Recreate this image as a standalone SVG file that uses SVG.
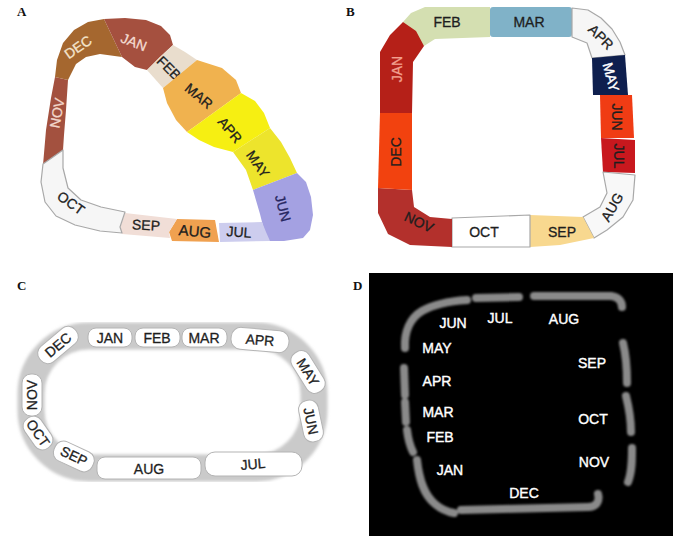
<svg xmlns="http://www.w3.org/2000/svg" width="673" height="536" viewBox="0 0 673 536">
  <defs>
    <style>
      .t { font-family: "Liberation Sans", Arial, sans-serif; font-size: 14px; text-anchor: middle; dominant-baseline: central; fill: #1e1e1e; stroke: #1e1e1e; stroke-width: 0.3; }
      .w { fill: #ffffff; stroke: #ffffff; stroke-width: 0.4; }
      .lab { font-family: "Liberation Serif", "Times New Roman", serif; font-weight: bold; font-size: 13px; fill: #111; }
      .pale { stroke: #a8a8a8; stroke-width: 1.2; stroke-linejoin: round; }
      .pill { fill: #ffffff; stroke: #b4b4b4; stroke-width: 1; }
      .dash { fill: none; stroke: #8a8a8a; stroke-width: 8; stroke-linecap: round; stroke-linejoin: round; }
    </style>
    <filter id="soft" x="-10%" y="-10%" width="120%" height="120%">
      <feGaussianBlur stdDeviation="0.8"/>
    </filter>
    <filter id="haze" x="-10%" y="-10%" width="120%" height="120%">
      <feGaussianBlur stdDeviation="1.5"/>
    </filter>
  </defs>

  <rect width="673" height="536" fill="#ffffff"/>

  <!-- Panel A: curved band of months -->
  <g id="panel-a">
    <text class="lab" x="17" y="16">A</text>
    <g id="a-nov"><polygon points="43,165 46,130 51,98 55,77 68,80 66,110 64,135 63,150" fill="#a3513f"/>
      <text class="t" style="fill:#f2d8cc;stroke:#f2d8cc" transform="translate(57,113) rotate(-80)">NOV</text></g>
    <g id="a-dec"><polygon points="55,77 57,60 63,43 74,30 88,22 104,19 122,57 100,54 86,57 76,64 68,80" fill="#a5672f"/>
      <text class="t" style="fill:#f4e4cc;stroke:#f4e4cc" transform="translate(78,47) rotate(-35)">DEC</text></g>
    <g id="a-jan"><polygon points="104,19 125,18 146,20 161,26 170,35 173,45 160,57 147,70 135,67 122,57" fill="#a5503f"/>
      <text class="t" style="fill:#f4dcd2;stroke:#f4dcd2" transform="translate(134,42) rotate(22)">JAN</text></g>
    <g id="a-feb"><polygon points="173,45 185,52 197,60 163,88 147,70 160,57" fill="#e9ddcd"/>
      <text class="t" transform="translate(169,68) rotate(45)">FEB</text></g>
    <g id="a-mar"><polygon points="197,60 222,68 236,80 241,93 187,132 176,120 167,103 163,88" fill="#f0b24f"/>
      <text class="t" transform="translate(199,96) rotate(40)">MAR</text></g>
    <g id="a-apr"><polygon points="241,93 255,101 264,113 270,128 233,152 214,147 199,140 187,132" fill="#f6ef12"/>
      <text class="t" transform="translate(230,130) rotate(50)">APR</text></g>
    <g id="a-may"><polygon points="270,128 281,142 290,158 297,173 253,190 246,170 233,152" fill="#ede42c"/>
      <text class="t" transform="translate(258,164) rotate(55)">MAY</text></g>
    <g id="a-jun"><polygon points="297,173 306,182 311,197 313,215 310,230 303,238 284,241 269,241 264,230 260,214 253,190" fill="#a4a1e2"/>
      <text class="t" style="fill:#262660;stroke:#262660" transform="translate(283,208) rotate(75)">JUN</text></g>
    <g id="a-jul"><polygon points="219,223 262,222 266,232 270,241 220,242" fill="#cdcdee"/>
      <text class="t" transform="translate(239,232) rotate(4)">JUL</text></g>
    <g id="a-aug"><polygon points="177,219 215,220 219,242 172,241 169,232" fill="#f0a150"/>
      <text class="t" style="font-size:15px" transform="translate(195,231) rotate(5)">AUG</text></g>
    <g id="a-sep"><polygon points="125,213 177,219 169,232 170,238 122,234 120,228" fill="#f1ded7"/>
      <text class="t" transform="translate(146,225) rotate(3)">SEP</text></g>
    <g id="a-oct"><polygon class="pale" points="43,164 63,150 63,168 68,188 81,200 101,207 125,212 120,227 122,233 100,231 75,225 56,216 45,202 41,182" fill="#f6f6f6"/>
      <text class="t" transform="translate(71,203) rotate(35)">OCT</text></g>
  </g>

  <!-- Panel B: square loop of months -->
  <g id="panel-b">
    <text class="lab" x="346" y="16">B</text>
    <g id="b-feb"><polygon points="403,22 411,13 425,7 490,7 490,37 435,39 424,46" fill="#d4dfb1"/>
      <text class="t" x="447" y="22">FEB</text></g>
    <g id="b-mar"><rect x="490" y="7" width="82" height="30" rx="3" fill="#80b2c8"/>
      <text class="t" x="529" y="22">MAR</text></g>
    <g id="b-apr"><polygon class="pale" points="572,8 588,10 601,18 612,29 620,42 625,55 592,58 587,43 572,37" fill="#f6f6f6"/>
      <text class="t" transform="translate(601,37) rotate(45)">APR</text></g>
    <g id="b-may"><polygon points="592,58 625,55 628,95 593,95" fill="#0e1f4e"/>
      <text class="t w" transform="translate(611,77) rotate(75)">MAY</text></g>
    <g id="b-jun"><polygon points="600,95 632,95 634,138 601,138" fill="#f03c14"/>
      <text class="t" transform="translate(617,117) rotate(90)">JUN</text></g>
    <g id="b-jul"><polygon points="601,138 635,140 635,173 603,172" fill="#c8181e"/>
      <text class="t" transform="translate(619,156) rotate(90)">JUL</text></g>
    <g id="b-aug"><polygon class="pale" points="603,172 635,175 633,200 623,217 607,230 594,238 583,217 600,207 607,193" fill="#f8f8f8"/>
      <text class="t" transform="translate(612,207) rotate(-60)">AUG</text></g>
    <g id="b-sep"><polygon points="530,215 583,217 594,238 560,245 530,247" fill="#f8d88f"/>
      <text class="t" x="562" y="232">SEP</text></g>
    <g id="b-oct"><polygon class="pale" points="452,218 530,215 530,247 452,247" fill="#ffffff"/>
      <text class="t" x="484" y="232">OCT</text></g>
    <g id="b-nov"><polygon points="378,188 412,190 414,207 430,217 452,219 452,247 410,245 388,234 378,213" fill="#b3302c"/>
      <text class="t" transform="translate(419,222) rotate(25)">NOV</text></g>
    <g id="b-dec"><polygon points="380,113 412,113 412,190 378,188" fill="#f2420f"/>
      <text class="t" transform="translate(396,152) rotate(-90)">DEC</text></g>
    <g id="b-jan"><polygon points="390,35 403,22 416,31 424,46 413,62 412,113 380,113 380,52" fill="#b52018"/>
      <text class="t" style="fill:#f2a090;stroke:#f2a090" transform="translate(397,69) rotate(-90)">JAN</text></g>
  </g>

  <!-- Panel C: oval track with pill-shaped months -->
  <g id="panel-c">
    <text class="lab" x="17" y="290">C</text>
    <rect x="31" y="336" width="283" height="132" rx="58" fill="none" stroke="#cacaca" stroke-width="27" filter="url(#haze)"/>
    <g id="c-jan"><rect class="pill" x="88" y="328" width="44" height="19" rx="8"/><text class="t" x="110" y="338">JAN</text></g>
    <g id="c-feb"><rect class="pill" x="135" y="328" width="45" height="19" rx="8"/><text class="t" x="157" y="338">FEB</text></g>
    <g id="c-mar"><rect class="pill" x="182" y="328" width="45" height="19" rx="8"/><text class="t" x="204" y="338">MAR</text></g>
    <g id="c-apr" transform="translate(260,340) rotate(5)"><rect class="pill" x="-29" y="-11" width="58" height="22" rx="10"/><text class="t" x="0" y="0">APR</text></g>
    <g id="c-may" transform="translate(308,372) rotate(58)"><rect class="pill" x="-23" y="-10" width="46" height="20" rx="9"/><text class="t" x="0" y="0">MAY</text></g>
    <g id="c-jun" transform="translate(311,421) rotate(78)"><rect class="pill" x="-21" y="-10" width="42" height="20" rx="9"/><text class="t" x="0" y="0">JUN</text></g>
    <g id="c-jul"><rect class="pill" x="205" y="452" width="97" height="24" rx="10"/><text class="t" transform="translate(253,464) rotate(-5)">JUL</text></g>
    <g id="c-aug"><rect class="pill" x="97" y="457" width="104" height="22" rx="8"/><text class="t" x="149" y="469">AUG</text></g>
    <g id="c-sep" transform="translate(74,456) rotate(25)"><rect class="pill" x="-21" y="-10" width="42" height="21" rx="9"/><text class="t" x="0" y="0">SEP</text></g>
    <g id="c-oct" transform="translate(38,433) rotate(55)"><rect class="pill" x="-18" y="-10" width="36" height="20" rx="9"/><text class="t" x="0" y="0">OCT</text></g>
    <g id="c-nov" transform="translate(32,395) rotate(-90)"><rect class="pill" x="-21" y="-10" width="42" height="20" rx="9"/><text class="t" x="0" y="0">NOV</text></g>
    <g id="c-dec" transform="translate(58,345) rotate(-40)"><rect class="pill" x="-23" y="-10" width="46" height="20" rx="9"/><text class="t" x="0" y="0">DEC</text></g>
  </g>

  <!-- Panel D: dashed loop on black -->
  <g id="panel-d">
    <text class="lab" x="353" y="290">D</text>
    <rect x="369" y="273" width="304" height="263" fill="#000000"/>
    <g id="d-track" filter="url(#soft)">
      <path class="dash" d="M405,348 C404,332 410,318 422,311 C436,303 452,301 467,300"/>
      <path class="dash" d="M476,298 L519,297"/>
      <path class="dash" d="M534,296 L611,296 C619,297 622,302 622,307"/>
      <path class="dash" d="M623,343 C626,355 627,370 627,383"/>
      <path class="dash" d="M626,396 C629,408 631,420 631,432"/>
      <path class="dash" d="M632,448 C632,460 632,472 628,482"/>
      <path class="dash" d="M598,494 C600,502 596,507 588,507 L461,510"/>
      <path class="dash" d="M417,460 C419,478 423,494 435,504 C442,510 448,512 454,513"/>
      <path class="dash" d="M407,430 C408,438 410,446 413,452"/>
      <path class="dash" d="M405,402 L406,422"/>
      <path class="dash" d="M404,368 L405,395"/>
    </g>
    <g id="d-labels" style="font-size:15px">
      <text class="t w" x="453" y="323">JUN</text>
      <text class="t w" x="500" y="318">JUL</text>
      <text class="t w" x="564" y="319">AUG</text>
      <text class="t w" x="437" y="348">MAY</text>
      <text class="t w" x="592" y="363">SEP</text>
      <text class="t w" x="437" y="381">APR</text>
      <text class="t w" x="438" y="412">MAR</text>
      <text class="t w" x="440" y="437">FEB</text>
      <text class="t w" x="593" y="419">OCT</text>
      <text class="t w" x="594" y="462">NOV</text>
      <text class="t w" x="450" y="470">JAN</text>
      <text class="t w" x="524" y="493">DEC</text>
    </g>
  </g>
</svg>
